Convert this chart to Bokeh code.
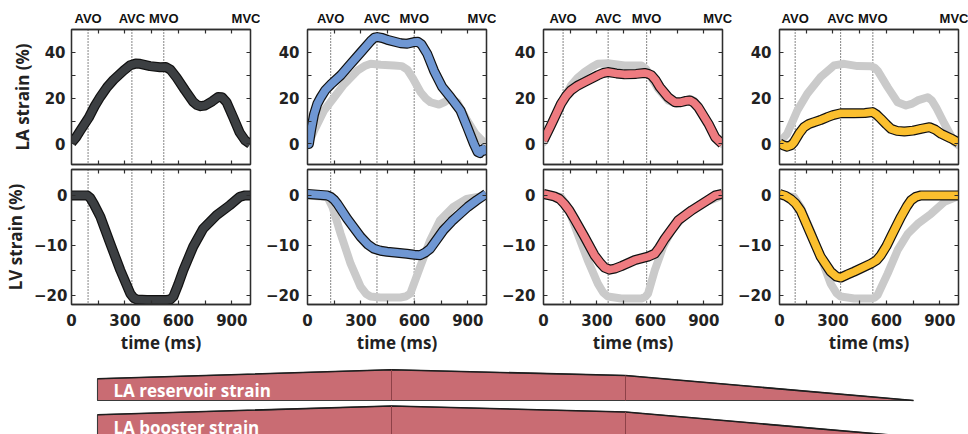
from bokeh.plotting import figure
from bokeh.models import Range1d, LinearAxis, FixedTicker, Span
from bokeh.layouts import column, row
from bokeh.embed import file_html
from bokeh.resources import INLINE
from bokeh.core.properties import value

# ---------------- data ----------------
event_names = ["AVO", "AVC", "MVO", "MVC"]
events = [
    [93, 339, 518, 982],
    [130, 390, 599, 987],
    [110, 363, 579, 978],
    [88, 343, 524, 980],
]

x_major = [0, 300, 600, 900]
x_minor = [150, 300, 450, 600, 750, 900]
la_major = [0, 20, 40]
la_minor = [0, 10, 20, 30, 40]
lv_major = [-20, -10, 0]
lv_minor = [-20, -15, -10, -5, 0]

# Panel 1 (normal, black)
p1_la_t = [0, 25, 50, 97, 130, 162, 200, 236, 292, 330, 360, 385, 441, 497, 530, 555, 590, 637, 683, 705, 725, 750, 790, 823, 845, 870, 907, 944, 975, 1003]
p1_la_v = [0.5, 2.8, 5.9, 11.5, 16.5, 20.6, 24.8, 28, 32, 34.4, 35.1, 35, 34, 33.5, 33.6, 32.5, 29, 23.5, 18.4, 17, 16.5, 16.8, 18.6, 20.5, 20.4, 18.3, 11.8, 5, 1.5, 0]
p1_lv_t = [0, 88, 105, 125, 162, 218, 274, 330, 350, 367, 423, 534, 555, 572, 600, 628, 683, 739, 814, 888, 944, 975, 1003]
p1_lv_v = [0, 0, -0.5, -1.7, -4.3, -9.7, -15, -19.7, -20.6, -20.9, -21, -21, -20.9, -20.3, -17.8, -15, -10.3, -6.7, -4, -2, -0.3, 0, 0]

# Panel 2 (blue)
p2_la_t = [0, 8, 20, 37, 55, 75, 100, 131, 187, 243, 299, 355, 375, 392, 420, 448, 523, 560, 598, 620, 640, 672, 710, 757, 803, 859, 897, 934, 955, 968, 980, 990, 1003]
p2_la_v = [1, 0, 6, 13, 17.5, 20.4, 23.5, 26, 30, 35, 40, 45, 46.4, 46.7, 46.3, 45.5, 44, 43.8, 44.5, 44.6, 43.5, 39.4, 32, 24.8, 20.4, 14.6, 7.3, 0, -3.5, -4, -2.5, -3, -1]
p2_la_ref_t = [9, 37, 93, 150, 205, 280, 320, 355, 411, 486, 530, 560, 589, 635, 665, 691, 738, 770, 794, 815, 840, 897, 943, 990]
p2_la_ref_v = [0.7, 5.8, 14.6, 20.4, 26, 32, 34, 35, 34.6, 34.3, 34, 32.5, 29, 22.6, 19.8, 18.2, 17.2, 18.3, 19.7, 19.5, 18.2, 10.2, 4.4, 0.7]
p2_lv_t = [0, 110, 130, 150, 168, 223, 298, 340, 372, 410, 447, 558, 600, 633, 660, 689, 763, 810, 856, 900, 949, 1003]
p2_lv_v = [0.3, 0, -0.3, -0.9, -1.7, -4.7, -8.3, -9.9, -10.7, -11.1, -11.3, -11.7, -11.9, -12, -11.5, -10.7, -7, -5.2, -3.7, -2.3, -1, 0.3]
p2_lv_ref_t = [0, 112, 140, 186, 242, 298, 330, 354, 409, 521, 550, 577, 633, 689, 744, 819, 893, 1003]
p2_lv_ref_v = [0, -0.3, -2.3, -7.7, -13.7, -18.3, -19.8, -20.3, -20.5, -20.5, -20.3, -19.7, -14.3, -9, -5, -2.3, -0.7, 0]

# Panel 3 (red)
p3_la_t = [0, 41, 70, 98, 125, 154, 190, 230, 305, 335, 361, 410, 455, 520, 568, 590, 606, 630, 653, 700, 738, 770, 800, 822, 845, 869, 926, 964, 1003]
p3_la_v = [1.5, 8, 12.8, 17.5, 20.8, 23.4, 25.4, 27, 30, 31, 31.4, 30.8, 30.4, 30.6, 31, 30.6, 30, 27.8, 24.8, 20.4, 18.2, 18.2, 18.8, 19, 18, 16, 8.8, 2.9, 0]
p3_la_ref_t = [0, 41, 98, 154, 190, 230, 270, 305, 361, 455, 550, 575, 597, 644, 700, 747, 790, 822, 845, 869, 926, 964, 1003]
p3_la_ref_v = [0.7, 7.3, 17.5, 25.5, 28.8, 31.4, 33.5, 35, 35.3, 34.3, 34.3, 32.8, 30, 24, 19, 17.5, 18.8, 19.7, 18.8, 16.8, 8.8, 2.9, 0]
p3_lv_t = [0, 60, 90, 117, 145, 173, 230, 286, 320, 343, 371, 400, 437, 512, 587, 625, 650, 681, 757, 832, 907, 964, 1003]
p3_lv_v = [0.3, -0.2, -0.7, -1.7, -3, -4.7, -8.3, -12, -13.6, -14.5, -14.9, -14.7, -14.2, -13, -12.3, -11.7, -10.5, -8.7, -5, -3, -1.3, 0, 0.3]
p3_lv_ref_t = [0, 98, 136, 192, 248, 305, 335, 361, 437, 550, 570, 587, 625, 672, 719, 794, 888, 1003]
p3_lv_ref_v = [0, -0.3, -2.3, -7.7, -13, -17.7, -19.5, -20.3, -20.7, -20.7, -20.4, -19.7, -15, -10.3, -7, -4, -1.7, 0]

# Panel 4 (yellow)
p4_la_t = [0, 20, 43, 65, 81, 110, 137, 165, 194, 230, 269, 300, 344, 419, 480, 522, 545, 569, 600, 626, 660, 701, 750, 795, 842, 875, 908, 960, 1003]
p4_la_v = [0.3, -0.6, -1.2, -0.6, 0.7, 4.5, 7.3, 8.7, 9.5, 10.4, 11.7, 12.6, 13.4, 13.4, 13.5, 13.9, 12.8, 11, 8.5, 6.6, 5.7, 5.4, 5.8, 6.6, 7.3, 6.2, 4.4, 2.5, 0.7]
p4_la_ref_t = [0, 43, 100, 156, 231, 306, 363, 438, 513, 535, 551, 607, 663, 710, 745, 776, 832, 855, 879, 926, 983, 1003]
p4_la_ref_v = [0.7, 4.4, 14.6, 21.9, 29.2, 34.3, 35, 34, 33.9, 33.3, 32, 24.8, 18.2, 16.8, 17.6, 19, 20.4, 19, 16, 8.8, 0.7, -0.5]
p4_lv_t = [0, 35, 62, 90, 118, 175, 231, 287, 320, 344, 380, 419, 513, 545, 569, 600, 626, 682, 715, 738, 765, 795, 1003]
p4_lv_v = [0.3, -0.1, -0.7, -1.6, -3, -7.7, -12.3, -15.3, -16.3, -16.5, -15.9, -15.3, -13.7, -13, -12, -10.2, -8.3, -4.3, -2.2, -1, -0.3, 0, 0]
p4_lv_ref_t = [0, 81, 118, 175, 231, 287, 320, 344, 419, 513, 535, 551, 607, 663, 720, 776, 851, 926, 1003]
p4_lv_ref_v = [0, -0.3, -2.3, -7, -12.3, -17.7, -19.6, -20.3, -20.7, -20.7, -20.5, -20, -15.7, -11, -7.7, -5.7, -3.7, -1.3, -0.2]

panels = [
    dict(la=(p1_la_t, p1_la_v), lv=(p1_lv_t, p1_lv_v), la_ref=None, lv_ref=None, color="#3c3f42"),
    dict(la=(p2_la_t, p2_la_v), lv=(p2_lv_t, p2_lv_v), la_ref=(p2_la_ref_t, p2_la_ref_v), lv_ref=(p2_lv_ref_t, p2_lv_ref_v), color="#6f97d3"),
    dict(la=(p3_la_t, p3_la_v), lv=(p3_lv_t, p3_lv_v), la_ref=(p3_la_ref_t, p3_la_ref_v), lv_ref=(p3_lv_ref_t, p3_lv_ref_v), color="#ee7b80"),
    dict(la=(p4_la_t, p4_la_v), lv=(p4_lv_t, p4_lv_v), la_ref=(p4_la_ref_t, p4_la_ref_v), lv_ref=(p4_lv_ref_t, p4_lv_ref_v), color="#fbbf2e"),
]

# schematic bars at bottom (x stations, top edge heights)
bar_x = [97, 97, 391, 625, 913]
bar1_y = [400, 378.3, 369.3, 375, 400]
bar2_y = [436.5, 414.3, 405.5, 411.5, 436.5]
bar_dividers = [391, 625]
bar_labels = ["LA reservoir strain", "LA booster strain"]

# ---------------- styling ----------------
AX = "#2e2e2e"
TICK_FONT = "DejaVu Sans"
LABEL_FONT = "Open Sans"


def style_axis(ax, standoff=6):
    ax.axis_line_color = AX
    ax.axis_line_width = 1.3
    ax.major_tick_line_color = AX
    ax.minor_tick_line_color = AX
    ax.major_tick_line_width = 1.2
    ax.minor_tick_line_width = 1.2
    ax.major_tick_in = 0
    ax.major_tick_out = 0
    ax.minor_tick_in = 4
    ax.minor_tick_out = 0
    ax.major_label_text_font = TICK_FONT
    ax.major_label_text_font_style = "bold"
    ax.major_label_text_font_size = "15px"
    ax.major_label_text_color = "#222222"
    ax.major_label_standoff = standoff
    ax.axis_label_text_font = LABEL_FONT
    ax.axis_label_text_font_style = "bold"
    ax.axis_label_text_font_size = "17px"
    ax.axis_label_text_color = "#222222"


def mirror_axis(minor):
    # ticks only, no labels
    ax = LinearAxis(ticker=FixedTicker(ticks=[], minor_ticks=minor))
    style_axis(ax, standoff=0)
    return ax


def make_panel(ci, kind):
    pan = panels[ci]
    ev = events[ci]
    left = 71 if ci == 0 else 47
    if kind == "LA":
        top, bottom = 29, 2
        yr = Range1d(-9, 50)
        ymaj, ymin = la_major, la_minor
        t, v = pan["la"]
        ref = pan["la_ref"]
    else:
        top, bottom = 3, 54
        yr = Range1d(-21.9, 5.2)
        ymaj, ymin = lv_major, lv_minor
        t, v = pan["lv"]
        ref = pan["lv_ref"]
    p = figure(width=left + 179 + 10, height=top + 135 + bottom,
               x_range=Range1d(0, 1005), y_range=yr,
               output_backend="svg", toolbar_location=None,
               x_axis_location=None, y_axis_location=None,
               min_border_left=left, min_border_right=10,
               min_border_top=top, min_border_bottom=bottom)
    p.grid.visible = False
    p.outline_line_color = AX
    p.outline_line_width = 1.3

    # left axis
    la = LinearAxis(ticker=FixedTicker(ticks=ymaj, minor_ticks=ymin))
    style_axis(la, standoff=(6 if kind == "LA" else 4) if ci == 0 else 8)
    if ci == 0:
        la.axis_label = "LA strain (%)" if kind == "LA" else "LV strain (%)"
        la.axis_label_standoff = 8 if kind == "LA" else 4
    p.add_layout(la, "left")
    p.add_layout(mirror_axis(ymin), "right")

    # bottom axis
    if kind == "LV":
        ba = LinearAxis(ticker=FixedTicker(ticks=x_major, minor_ticks=x_minor))
        style_axis(ba, standoff=9)
        ba.axis_label = "time (ms)"
        ba.axis_label_standoff = 2
    else:
        ba = mirror_axis(x_minor)
    p.add_layout(ba, "below")

    # top axis
    if kind == "LA":
        ta = LinearAxis(ticker=FixedTicker(ticks=ev, minor_ticks=x_minor))
        style_axis(ta, standoff=4)
        ta.major_label_overrides = {e: n for e, n in zip(ev, event_names)}
        ta.major_label_text_font = "Liberation Sans"
        ta.major_label_text_font_size = "13px"
        ta.major_label_text_color = "#111111"
    else:
        ta = mirror_axis(x_minor)
    p.add_layout(ta, "above")

    for e in ev[:3]:
        p.add_layout(Span(location=e, dimension="height", line_color="#222222",
                          line_width=1.1, line_dash="1 2", level="underlay"))

    if ref is not None:
        p.line(ref[0], ref[1], line_color="#cacaca", line_width=8,
               line_join="round", line_cap="round")
    p.line(t, v, line_color="#111111", line_width=10, line_join="round", line_cap="butt")
    p.line(t, v, line_color=pan["color"], line_width=7.6, line_join="round", line_cap="butt")
    return p


top_row = row(*[make_panel(i, "LA") for i in range(4)], spacing=0)
bot_row = row(*[make_panel(i, "LV") for i in range(4)], spacing=0)

# bottom schematic (coordinates in page pixels)
q = figure(width=968, height=76, x_range=Range1d(0, 968), y_range=Range1d(434, 358),
           output_backend="svg", toolbar_location=None,
           x_axis_location=None, y_axis_location=None,
           min_border=0, min_border_left=0, min_border_right=0,
           min_border_top=0, min_border_bottom=0)
q.grid.visible = False
q.outline_line_color = None
for ys, lab in zip([bar1_y, bar2_y], bar_labels):
    q.patch(bar_x, ys, fill_color="#c96c73", line_color="#3a3a3a", line_width=1.1)
    q.line(bar_x[1:], ys[1:], line_color="#1e1e1e", line_width=1.6)
    for d in bar_dividers:
        idx = bar_x.index(d)
        q.segment(x0=[d], y0=[ys[0]], x1=[d], y1=[ys[idx]], line_color="#8e4148", line_width=1)
    q.text(x=[113], y=[ys[0] - 10], text=[lab], text_color="white",
           text_font=value(LABEL_FONT), text_font_style="bold", text_font_size="17px",
           text_baseline="alphabetic")

layout = column(top_row, bot_row, q, spacing=0)
open("out.html", "w").write(file_html(layout, INLINE))
